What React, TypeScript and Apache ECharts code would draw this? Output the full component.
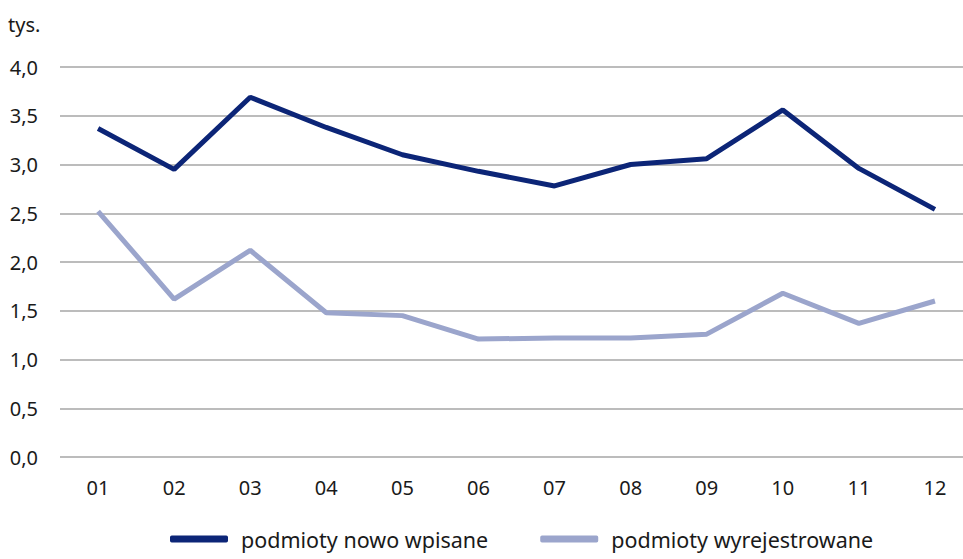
import React, { useEffect, useRef } from "react";
import * as echarts from "echarts";

const months = ["01", "02", "03", "04", "05", "06", "07", "08", "09", "10", "11", "12"];
const nowoWpisane = [3.37, 2.95, 3.69, 3.38, 3.1, 2.93, 2.78, 3.0, 3.06, 3.56, 2.96, 2.54];
const wyrejestrowane = [2.52, 1.62, 2.12, 1.48, 1.45, 1.21, 1.22, 1.22, 1.26, 1.68, 1.37, 1.6];
const seriesNames = ["podmioty nowo wpisane", "podmioty wyrejestrowane"];
const unitLabel = "tys.";

const FONT = "'Noto Sans', sans-serif";

export default function App() {
  const ref = useRef<HTMLDivElement>(null);
  useEffect(() => {
    if (!ref.current) return;
    const chart = echarts.init(ref.current, undefined, { renderer: "svg" });
    chart.setOption({
      animation: false,
      backgroundColor: "#ffffff",
      textStyle: { fontFamily: FONT },
      grid: { left: 60, top: 67, width: 913, height: 390, outerBoundsMode: "none" },
      graphic: [
        {
          type: "text",
          left: 8,
          top: 14,
          style: { text: unitLabel, fontSize: 20, fontFamily: FONT, fill: "#1a1a1a" },
        },
      ],
      legend: {
        left: 170,
        top: 528,
        itemWidth: 58,
        itemHeight: 7,
        itemGap: 52,
        icon: "roundRect",
        padding: 0,
        textStyle: {
          fontSize: 21.5,
          lineHeight: 22,
          fontFamily: FONT,
          color: "#1a1a1a",
          padding: [0, 0, 0, 8],
        },
        data: seriesNames,
      },
      xAxis: {
        type: "category",
        data: months,
        boundaryGap: true,
        axisLine: { show: false },
        axisTick: { show: false },
        axisLabel: { fontSize: 20, color: "#1a1a1a", margin: 20, fontFamily: FONT },
      },
      yAxis: {
        type: "value",
        min: 0,
        max: 4,
        interval: 0.5,
        axisLine: { show: false },
        axisTick: { show: false },
        splitLine: { lineStyle: { color: "#a6a6a6", width: 1.5 } },
        axisLabel: {
          fontSize: 20,
          color: "#1a1a1a",
          margin: 22,
          fontFamily: FONT,
          formatter: (v: number) => v.toFixed(1).replace(".", ","),
        },
      },
      series: [
        {
          name: seriesNames[0],
          type: "line",
          data: nowoWpisane,
          symbol: "none",
          lineStyle: { color: "#0c2577", width: 5 },
          itemStyle: { color: "#0c2577" },
        },
        {
          name: seriesNames[1],
          type: "line",
          data: wyrejestrowane,
          symbol: "none",
          lineStyle: { color: "#9ba5cc", width: 5 },
          itemStyle: { color: "#9ba5cc" },
        },
      ],
    });
    return () => chart.dispose();
  }, []);
  return (
    <div
      ref={ref}
      style={{ position: "fixed", left: 0, top: 0, width: 963, height: 559, overflow: "hidden" }}
    />
  );
}
